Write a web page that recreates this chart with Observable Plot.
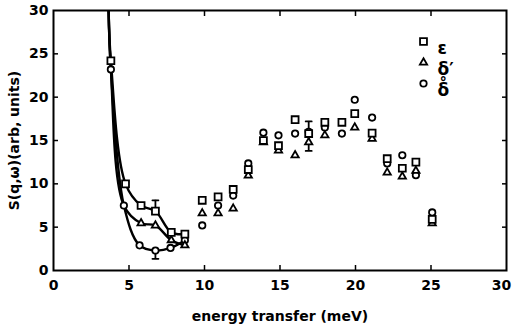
<!DOCTYPE html>
<html><head><meta charset="utf-8">
<script src="https://cdn.jsdelivr.net/npm/d3@7"></script>
<script src="https://cdn.jsdelivr.net/npm/@observablehq/plot@0.6"></script>
<style>body{margin:0;background:#fff;}</style>
</head><body><div id="chart"></div>
<script>
// axis ticks
const xTicks = [0, 5, 10, 15, 20, 25, 30];
const yTicks = [0, 5, 10, 15, 20, 25, 30];
// common start of the three low-energy curves (top of the frame)
const curveStart = {x: 3.65, y: 30};

// ε (squares)
const epsX = [3.8, 4.77, 5.8, 6.75, 7.8, 8.7, 9.85, 10.9, 11.9, 12.9, 13.9, 14.9, 16.0, 16.9, 17.97, 19.1, 19.95, 21.1, 22.1, 23.1, 24.0, 25.08];
const epsY = [24.2, 10.0, 7.5, 6.85, 4.4, 4.2, 8.1, 8.5, 9.35, 11.65, 15.0, 14.4, 17.4, 15.8, 17.1, 17.1, 18.1, 15.85, 12.9, 11.8, 12.5, 5.9];
const epsCurveCount = 6;

// δ' (triangles)
const dpX = [5.8, 6.75, 7.8, 8.7, 9.85, 10.9, 11.9, 12.9, 13.9, 14.9, 16.0, 16.9, 17.97, 19.95, 21.1, 22.1, 23.1, 24.0, 25.08];
const dpY = [5.45, 5.2, 3.5, 2.9, 6.6, 6.6, 7.15, 10.95, 14.8, 13.85, 13.3, 14.8, 15.6, 16.5, 15.2, 11.3, 10.85, 11.5, 5.45];
const dpCurveCount = 4;
const dpCurveJoin = {x: 4.66, y: 7.5};

// δ̊ (circles)
const dX = [3.8, 4.66, 5.7, 6.75, 7.75, 8.7, 9.85, 10.9, 11.9, 12.9, 13.9, 14.9, 16.0, 16.9, 17.97, 19.1, 19.95, 21.1, 22.1, 23.1, 24.0, 25.08];
const dY = [23.2, 7.5, 2.9, 2.3, 2.6, 3.5, 5.2, 7.5, 8.65, 12.35, 15.9, 15.6, 15.8, 16.0, 16.5, 15.8, 19.7, 17.65, 12.35, 13.3, 11.0, 6.7];
const dCurveCount = 6;

// error bars
const errX = [6.75, 6.75, 16.9];
const errLo = [6.85, 1.35, 13.8];
const errHi = [8.1, 2.3, 17.2];
const capX = [6.75, 6.75, 16.9, 16.9];
const capY = [8.1, 1.35, 17.2, 13.8];

// legend
const legendLabels = ["ε", "δ′", "δ̊"];
const legendSymbols = ["square", "triangle", "circle"];

const pts = (xs, ys) => xs.map((x, i) => ({x, y: ys[i]}));
const eps = pts(epsX, epsY);
const dp = pts(dpX, dpY);
const dl = pts(dX, dY);

const epsCurve = [curveStart, ...eps.slice(0, epsCurveCount)];
const dCurve = [curveStart, ...dl.slice(0, dCurveCount)];
const dpCurve = [curveStart, {x: dX[0], y: dY[0]}, dpCurveJoin, ...dp.slice(0, dpCurveCount)];

const errs = errX.map((x, i) => ({x, y1: errLo[i], y2: errHi[i]}));
const caps = pts(capX, capY);
const capShape = {draw(ctx, l) { ctx.moveTo(0, 0); ctx.lineTo(0, -l); }};

const symR = {square: 3.9, triangle: 2.7, circle: 3.2};
const lineOpts = {x: "x", y: "y", curve: "catmull-rom", stroke: "black", strokeWidth: 2.4, clip: true};
const dotOpts = (sym) => ({x: "x", y: "y", symbol: () => sym, r: symR[sym], fill: "white", stroke: "black", strokeWidth: 1.8});

const legendMarks = legendLabels.flatMap((lab, i) => [
  Plot.dot([0], {frameAnchor: "top-right", dx: -83, dy: 31 + i * 21, symbol: () => legendSymbols[i], r: symR[legendSymbols[i]], fill: "white", stroke: "black", strokeWidth: 1.8}),
  Plot.text([lab], {frameAnchor: "top-right", dx: -69, dy: 31 + i * 21, text: d => d, textAnchor: "start", fontFamily: "DejaVu Sans", fontSize: 17, fontWeight: "bold", fill: "black"})
]);

const chart = Plot.plot({
  width: 512,
  height: 328,
  marginLeft: 53,
  marginRight: 6,
  marginTop: 10,
  marginBottom: 58,
  style: {fontFamily: "DejaVu Sans", fontSize: "14px", fontWeight: "bold", color: "black", background: "white"},
  x: {domain: [0, 30]},
  y: {domain: [0, 30]},
  marks: [
    Plot.frame({stroke: "black", strokeWidth: 2}),
    Plot.axisX({ticks: xTicks.slice(0, -1), tickSize: 0, tickPadding: 10, label: "energy transfer (meV)", labelAnchor: "center", labelArrow: "none", labelOffset: 50}),
    Plot.axisX({ticks: xTicks.slice(-1), tickSize: 0, tickPadding: 10, dx: -5, label: null}),
    Plot.axisY({ticks: yTicks, tickSize: 0, tickPadding: 5, label: "S(q,ω)(arb, units)", labelAnchor: "center", labelArrow: "none", labelOffset: 44}),
    Plot.axisX({anchor: "bottom", ticks: xTicks.slice(1, -1), tickSize: 5, dy: -5, tickFormat: () => "", label: null, strokeWidth: 1.5}),
    Plot.axisX({anchor: "top", ticks: xTicks.slice(1, -1), tickSize: 5, dy: 5, tickFormat: () => "", label: null, strokeWidth: 1.5}),
    Plot.axisY({anchor: "left", ticks: yTicks.slice(1, -1), tickSize: 5, dx: 5, tickFormat: () => "", label: null, strokeWidth: 1.5}),
    Plot.axisY({anchor: "right", ticks: yTicks.slice(1, -1), tickSize: 5, dx: -5, tickFormat: () => "", label: null, strokeWidth: 1.5}),
    Plot.line(epsCurve, lineOpts),
    Plot.line(dpCurve, lineOpts),
    Plot.line(dCurve, lineOpts),
    Plot.ruleX(errs, {x: "x", y1: "y1", y2: "y2", stroke: "black", strokeWidth: 1.8}),
    Plot.vector(caps, {x: "x", y: "y", length: 6, rotate: 90, anchor: "middle", shape: capShape, stroke: "black", strokeWidth: 1.8}),
    Plot.dot(dl, dotOpts("circle")),
    Plot.dot(dp, dotOpts("triangle")),
    Plot.dot(eps, dotOpts("square")),
    ...legendMarks
  ]
});
document.getElementById("chart").append(chart);
</script>
</body></html>
